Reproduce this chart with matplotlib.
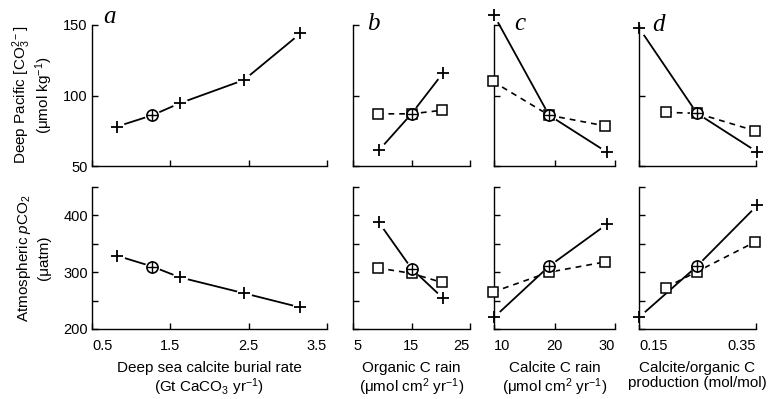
import matplotlib
matplotlib.use("Agg")
import matplotlib.pyplot as plt

# ---- data ----
# a: deep sea calcite burial rate (Gt CaCO3/yr)
a_x = [0.82, 1.27, 1.62, 2.44, 3.16]
a_co3 = [78, 86, 94.5, 111, 144]
a_pco2 = [329, 310, 291, 263, 238]

# b: organic C rain
b_plus_x = [9.4, 15.0, 20.4]
b_plus_co3 = [61, 87, 116]
b_plus_pco2 = [388, 306.5, 254]
b_sq_x = [9.2, 15.0, 20.2]
b_sq_co3 = [87, 87, 89.5]
b_sq_pco2 = [307.5, 298, 282]

# c: calcite C rain
c_plus_x = [10.0, 19.1, 28.6]
c_plus_co3 = [157, 86, 60]
c_plus_pco2 = [220.5, 310.5, 384]
c_sq_x = [9.8, 19.1, 28.3]
c_sq_co3 = [110, 86, 78.5]
c_sq_pco2 = [265, 300, 318]

# d: calcite/organic C production ratio
d_plus_x = [0.15, 0.249, 0.352]
d_plus_co3 = [148, 87.4, 60]
d_plus_pco2 = [220.5, 310.5, 417.5]
d_sq_x = [0.196, 0.249, 0.348]
d_sq_co3 = [88, 87.4, 75]
d_sq_pco2 = [273, 301, 353]

ctrl = 1  # index of the control run (circled plus)

xlims = [(0.5, 3.5), (5, 25), (10, 30), (0.15, 0.35)]
xticks = [[0.5, 1.5, 2.5, 3.5], [5, 15, 25], [10, 20, 30], [0.15, 0.35]]
xticklabels = [["0.5", "1.5", "2.5", "3.5"], ["5", "15", "25"],
               ["10", "20", "30"], ["0.15", "0.35"]]
xlabels = ["Deep sea calcite burial rate\n(Gt CaCO$_3$ yr$^{-1}$)",
           "Organic C rain\n(\u03bcmol cm$^2$ yr$^{-1}$)",
           "Calcite C rain\n(\u03bcmol cm$^2$ yr$^{-1}$)",
           "Calcite/organic C\nproduction (mol/mol)"]
letters = ["a", "b", "c", "d"]

plt.rcParams["font.family"] = "Liberation Sans"
plt.rcParams["mathtext.fontset"] = "custom"
plt.rcParams["mathtext.rm"] = "Liberation Sans"
plt.rcParams["mathtext.it"] = "Liberation Sans:italic"

W, H = 777, 399
fig = plt.figure(figsize=(W / 100, H / 100), dpi=100)

# axes boxes in pixels (left, right)
cols = [(92, 327), (353, 470), (494, 615), (639, 756)]
rows = [(25, 166), (187, 329)]  # (top, bottom)


def px_box(c, r):
    l, rr = c
    t, b = r
    return [l / W, 1 - b / H, (rr - l) / W, (b - t) / H]


def draw(ax, px, py, sx=None, sy=None):
    if sx is not None:
        ax.plot(sx, sy, color="k", lw=1.2, ls=(0, (3.5, 3)), clip_on=False, zorder=2)
    ax.plot(px, py, color="k", lw=1.3, clip_on=False, zorder=2)
    # white gaps round the markers
    ax.plot(px, py, "o", ms=10, mfc="white", mec="white", ls="none",
            clip_on=False, zorder=2.2)
    if sx is not None:
        ax.plot(sx, sy, "s", ms=7, mfc="white", mec="k", mew=1.1, ls="none",
                clip_on=False, zorder=4)
    others = [i for i in range(len(px)) if i != ctrl]
    ax.plot([px[i] for i in others], [py[i] for i in others], "+", ms=9,
            mew=1.3, color="k", ls="none", clip_on=False, zorder=5)
    ax.plot(px[ctrl], py[ctrl], "o", ms=8, mfc="white", mec="k", mew=1.2,
            clip_on=False, zorder=5)
    ax.plot(px[ctrl], py[ctrl], "+", ms=8, mew=1.0, color="k",
            clip_on=False, zorder=6)


series = [
    (a_x, a_co3, a_pco2, None, None, None),
    (b_plus_x, b_plus_co3, b_plus_pco2, b_sq_x, b_sq_co3, b_sq_pco2),
    (c_plus_x, c_plus_co3, c_plus_pco2, c_sq_x, c_sq_co3, c_sq_pco2),
    (d_plus_x, d_plus_co3, d_plus_pco2, d_sq_x, d_sq_co3, d_sq_pco2),
]

lx = [(110 - 92) / 235, (373 - 353) / 117, (520 - 494) / 121, (658 - 639) / 117]
ly = [1.06, 1.01, 1.01, 1.0]

for j in range(4):
    px, pco3, ppco2, sx, sco3, spco2 = series[j]
    top = fig.add_axes(px_box(cols[j], rows[0]))
    bot = fig.add_axes(px_box(cols[j], rows[1]))
    draw(top, px, pco3, sx, sco3)
    draw(bot, px, ppco2, sx, spco2)

    for ax in (top, bot):
        for s in ("top", "right"):
            ax.spines[s].set_visible(False)
        for s in ("left", "bottom"):
            ax.spines[s].set_linewidth(1.0)
        ax.set_xlim(*xlims[j])
        ax.set_xticks(xticks[j])
        ax.tick_params(direction="in", length=4, width=1, labelsize=10.5)
        ax.tick_params(axis="x", pad=7)
        ax.tick_params(axis="y", pad=3)

    top.set_ylim(50, 150)
    top.set_yticks([50, 100, 150])
    bot.set_ylim(200, 450)
    bot.set_yticks([200, 250, 300, 350, 400, 450])
    top.set_xticklabels([])
    bot.set_xticklabels(xticklabels[j])
    labs = bot.get_xticklabels()
    labs[0].set_ha("left")
    labs[-1].set_ha("right")
    bot.set_xlabel(xlabels[j], fontsize=11, labelpad=6, linespacing=1.1)

    if j == 0:
        top.set_yticklabels(["50", "100", "150"])
        bot.set_yticklabels(["200", "", "300", "", "400", ""])
    else:
        top.set_yticklabels([])
        bot.set_yticklabels([])

    top.text(lx[j], ly[j], letters[j], transform=top.transAxes, fontsize=18,
             family="Liberation Serif", style="italic", va="center", ha="center")

# y axis labels, two lines each
fig.text(22 / W, 1 - 95 / H, "Deep Pacific [CO$_3^{2-}$]", rotation=90,
         ha="center", va="center", fontsize=11)
fig.text(44 / W, 1 - 95 / H, "(\u03bcmol kg$^{-1}$)", rotation=90,
         ha="center", va="center", fontsize=11)
fig.text(24 / W, 1 - 258 / H, "Atmospheric $p$CO$_2$", rotation=90,
         ha="center", va="center", fontsize=11)
fig.text(44 / W, 1 - 258 / H, "(\u03bcatm)", rotation=90,
         ha="center", va="center", fontsize=11)

fig.savefig("out.png", dpi=100)
